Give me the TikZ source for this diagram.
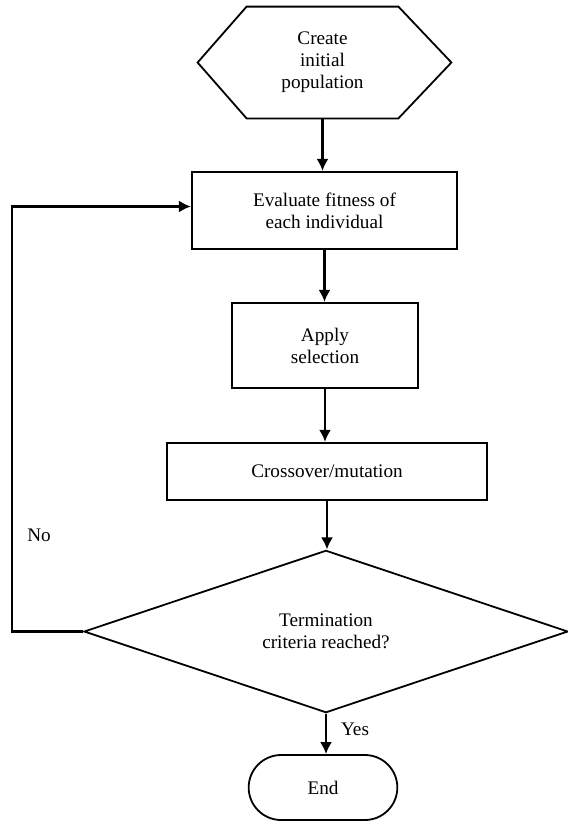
\documentclass[tikz,border=0pt]{standalone}
\usepackage{fontspec}
\setmainfont{Liberation Serif}
\newfontfamily\flowfont{Liberation Serif}
\usetikzlibrary{shapes.geometric,shapes.misc,arrows.meta}
\tikzset{
  procbox/.style={draw, line width=1.1pt, align=center, inner sep=0pt},
  flowline/.style={line width=1.1pt},
}
\begin{document}
\begin{tikzpicture}[>={Latex[length=6pt,width=6pt]}, x=0.5pt, y=-0.5pt, font=\flowfont\fontsize{9.6}{11}\selectfont]
\useasboundingbox (0,0) rectangle (568,821);
% start
    \node[align=center, minimum width=75.5pt, minimum height=55.5pt, inner sep=0pt] (init) at (322.5,62.5) {Create\\initial\\population};
    \draw[line width=0.9pt] (init.north west) -- (init.north east) -- ([xshift=26.5pt]init.east)
        -- (init.south east) -- (init.south west) -- ([xshift=-24.5pt]init.west) -- cycle;
% steps
    \node[procbox, minimum width=132.5pt, minimum height=38.5pt] (eval) at (324.5,210.5) {Evaluate fitness of\\each individual};
    \node[procbox, minimum width=93pt, minimum height=42.5pt] (select) at (325,345.5) {Apply\\selection};
    \node[procbox, minimum width=160pt, minimum height=28.5pt] (cross) at (327,471.5) {Crossover/mutation};
    \node[diamond, draw, line width=0.9pt, align=center, inner sep=0pt, minimum width=242pt, minimum height=70.5pt] (test) at (326,631.5) {Termination\\criteria reached?};
    \node[rounded rectangle, draw, line width=0.9pt, minimum width=81pt, minimum height=32.5pt] (end) at (323,787.5) {End};
% arrows
    \draw[flowline,->] (init.south) -- (init.south |- eval.north);
    \draw[flowline,->] (eval.south) -- (eval.south |- select.north);
    \draw[flowline,->] (select.south) -- (select.south |- cross.north);
    \draw[flowline,->] (cross.south) -- (cross.south |- test.north);
    \draw[flowline,->] (test.south) -- (test.south |- end.north);
    \coordinate (loop) at (12,400);
    \draw[flowline,->] (test.west) -- (test.west -| loop) |- ([yshift=2pt]eval.west);
    \node (no) at (39,535) {No};
    \node (yes) at (355,729) {Yes};
\end{tikzpicture}
\end{document}
